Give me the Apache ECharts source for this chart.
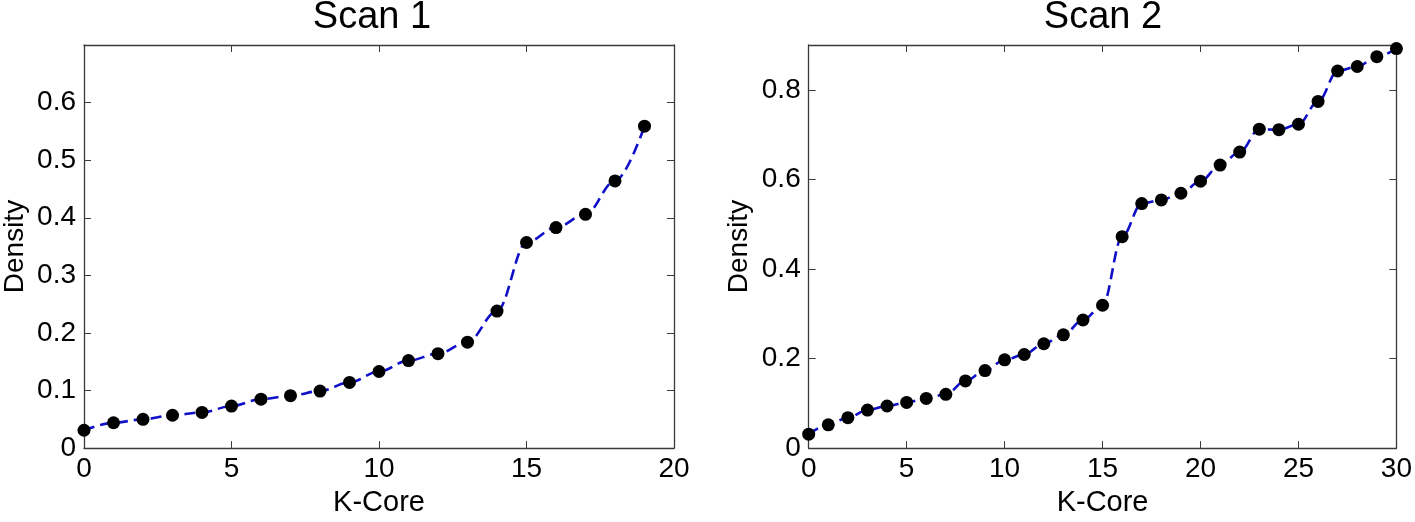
<!DOCTYPE html>
<html>
<head>
<meta charset="utf-8">
<script src="https://cdn.jsdelivr.net/npm/echarts@6/dist/echarts.min.js"></script>
<style>
html,body{margin:0;padding:0;background:#fff;}
#chart{width:1415px;height:522px;}
</style>
</head>
<body>
<div id="chart"></div>
<script>
// ---- data ----
const titles = ['Scan 1', 'Scan 2'];
const xName = 'K-Core';
const yName = 'Density';
const kcore1 = [0,1,2,3,4,5,6,7,8,9,10,11,12,13,14,15,16,17,18,19];
const density1 = [0.031,0.044,0.050,0.057,0.062,0.073,0.085,0.091,0.099,0.114,0.133,0.152,0.164,0.184,0.238,0.357,0.383,0.406,0.464,0.559];
const kcore2 = [0,1,2,3,4,5,6,7,8,9,10,11,12,13,14,15,16,17,18,19,20,21,22,23,24,25,26,27,28,29,30];
const density2 = [0.031,0.052,0.068,0.085,0.094,0.102,0.111,0.120,0.150,0.173,0.197,0.209,0.233,0.253,0.286,0.319,0.472,0.546,0.554,0.569,0.596,0.632,0.661,0.712,0.711,0.723,0.774,0.842,0.852,0.874,0.892];
// axis ranges / ticks
const xRange1 = {min:0, max:20, interval:5};
const yRange1 = {min:0, max:0.7, interval:0.1};
const xRange2 = {min:0, max:30, interval:5};
const yRange2 = {min:0, max:0.9, interval:0.2};

const FONT = 'Liberation Sans, Arial, sans-serif';
const frameColor = '#3a3a3a';
const chart = echarts.init(document.getElementById('chart'), null, {renderer:'canvas'});

function mainX(grid, r){
  return Object.assign({type:'value', gridIndex:grid, name:xName, nameLocation:'middle', nameGap:38,
    nameTextStyle:{fontFamily:FONT, fontSize:29, color:'#000'},
    axisLine:{show:true, onZero:false, lineStyle:{color:frameColor, width:1.3}},
    axisTick:{show:true, inside:true, length:7, lineStyle:{color:frameColor}},
    axisLabel:{fontFamily:FONT, fontSize:28, color:'#000', margin:7},
    splitLine:{show:false}}, r);
}
function mainY(grid, r){
  return Object.assign({type:'value', gridIndex:grid, name:yName, nameLocation:'middle', nameGap:55,
    nameTextStyle:{fontFamily:FONT, fontSize:28, color:'#000'},
    axisLine:{show:true, onZero:false, lineStyle:{color:frameColor, width:1.3}},
    axisTick:{show:true, inside:true, length:7, lineStyle:{color:frameColor}},
    axisLabel:{fontFamily:FONT, fontSize:28, color:'#000', margin:8, showMaxLabel:false},
    splitLine:{show:false}}, r);
}
function twinX(grid, r){
  return Object.assign({type:'value', gridIndex:grid, position:'top',
    axisLine:{show:true, onZero:false, lineStyle:{color:frameColor, width:1.3}},
    axisTick:{show:true, inside:true, length:7, lineStyle:{color:frameColor}},
    axisLabel:{show:false}, splitLine:{show:false}}, r);
}
function twinY(grid, r){
  return Object.assign({type:'value', gridIndex:grid, position:'right',
    axisLine:{show:true, onZero:false, lineStyle:{color:frameColor, width:1.3}},
    axisTick:{show:true, inside:true, length:7, lineStyle:{color:frameColor}},
    axisLabel:{show:false}, splitLine:{show:false}}, r);
}
function lineSeries(xi, yi, xs, ys){
  return {type:'line', xAxisIndex:xi, yAxisIndex:yi,
    data: xs.map((x,i)=>[x, ys[i]]),
    smooth:0.35, smoothMonotone:'x',
    symbol:'circle', symbolSize:13,
    itemStyle:{color:'#000'},
    lineStyle:{color:'#1010c8', width:2.6, type:[11,6]},
    animation:false, z:3};
}

chart.setOption({
  backgroundColor:'#fff',
  animation:false,
  grid:[
    {left:83, top:45, width:591, height:412.7, containLabel:false},
    {left:808.7, top:45, width:591.3, height:412.5, containLabel:false}
  ],
  graphic:[
    {type:'text', x:372, y:-1, style:{text:titles[0], font:'38px ' + FONT, fill:'#000', align:'center', verticalAlign:'top'}},
    {type:'text', x:1103, y:-1, style:{text:titles[1], font:'38px ' + FONT, fill:'#000', align:'center', verticalAlign:'top'}}
  ],
  xAxis:[ mainX(0, xRange1), mainX(1, xRange2), twinX(0, xRange1), twinX(1, xRange2) ],
  yAxis:[ mainY(0, yRange1), mainY(1, yRange2), twinY(0, yRange1), twinY(1, yRange2) ],
  series:[ lineSeries(0,0,kcore1,density1), lineSeries(1,1,kcore2,density2) ]
});
</script>
</body>
</html>
